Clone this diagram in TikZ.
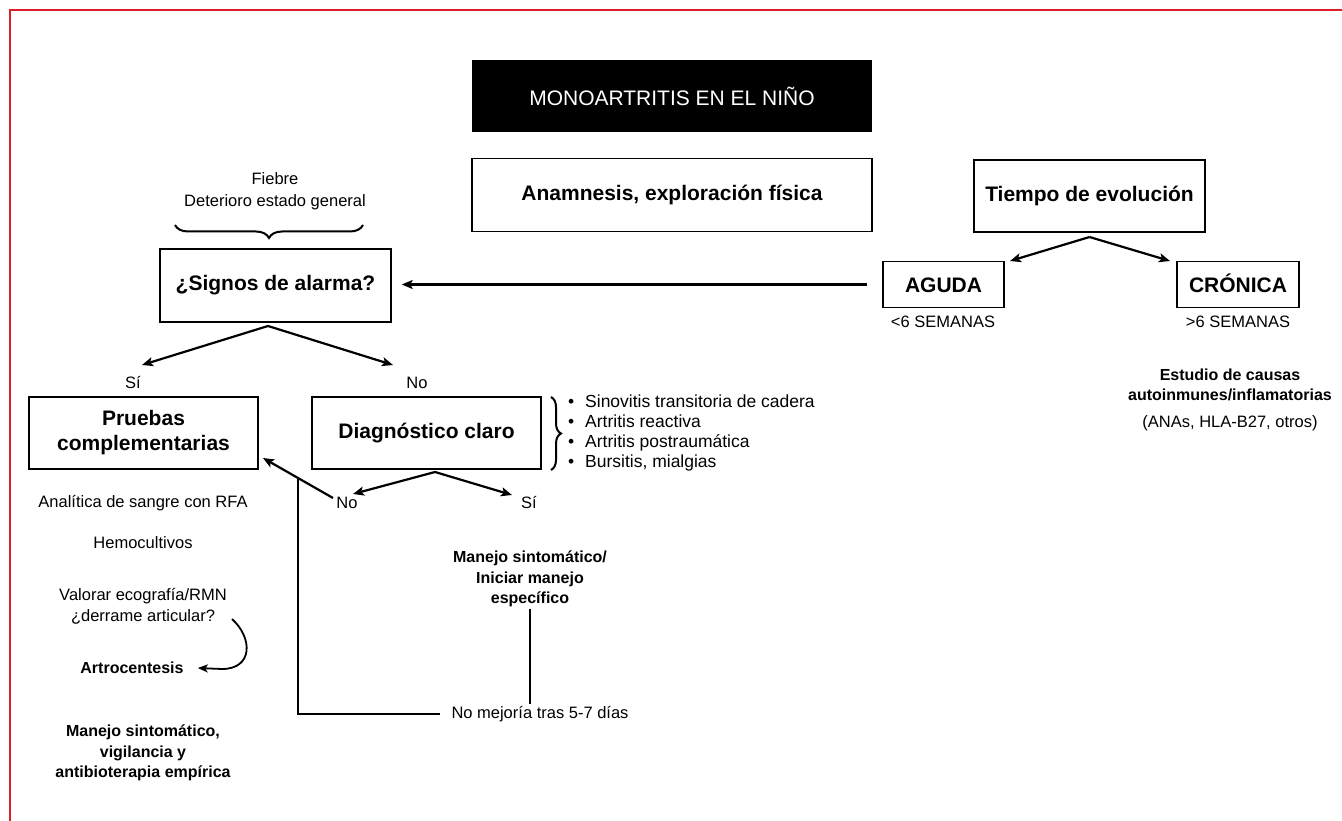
\documentclass[tikz,border=0pt]{standalone}
\usepackage{fontspec}
\setmainfont{Liberation Sans}
\usetikzlibrary{arrows.meta,decorations.pathreplacing,calc}
\newcommand{\fsmall}{\fontsize{16.5}{20}\selectfont}
\newcommand{\fsmallb}{\fontsize{16}{20.5}\selectfont\bfseries}
\newcommand{\fbig}{\fontsize{21}{25}\selectfont\bfseries}
\newcommand{\ftitle}{\fontsize{21}{24}\selectfont}
\definecolor{frame}{RGB}{222,30,40}
\tikzset{
  box/.style={draw, line width=1.5pt, inner sep=0pt, font=\fbig, align=center},
  lbl/.style={inner sep=2pt, font=\fsmall, align=center},
  lblb/.style={inner sep=2pt, font=\fsmallb, align=center},
  arr/.style={-{Stealth[length=11pt,width=9pt,inset=2.5pt]}, line width=2.2pt},
  plain/.style={line width=2.2pt},
  brc/.style={decorate, line width=2pt},
}
\begin{document}
\begin{tikzpicture}[x=1pt,y=-1pt]
\useasboundingbox (0,0) rectangle (1342,821);
\fill[white] (0,0) rectangle (1342,821);
\draw[frame, line width=2pt] (9.5,821) -- (9.5,10.5) -- (1342,10.5);

% top row
\node[fill=black, text=white, minimum width=400pt, minimum height=72pt, inner sep=0pt, font=\ftitle] (title) at (672,96) {MONOARTRITIS EN EL NIÑO};
\node[box, minimum width=400pt, minimum height=73pt] (anam) at (672,195) {Anamnesis, exploración física};
\node[box, minimum width=231pt, minimum height=72pt] (tiempo) at (1089.5,196) {Tiempo de evolución};

\node[box, minimum width=121pt, minimum height=46pt, text height=15pt, text depth=0pt] (aguda) at (943.5,284.5) {AGUDA};
\node[box, minimum width=122pt, minimum height=46pt, text height=15pt, text depth=0pt] (cronica) at (1238,284.5) {CRÓNICA};
\node[lbl] (agudal) at (943,322) {<6 SEMANAS};
\node[lbl] (cronical) at (1238,322) {>6 SEMANAS};
\node[lblb] (estudio) at (1230,385) {Estudio de causas\\autoinmunes/inflamatorias};
\node[lbl] (anas) at (1230,423) {(ANAs, HLA-B27, otros)};

\coordinate (tap) at (1089.5,237);
\draw[arr] (tap) -- (1010,261);
\draw[arr] (tap) -- (1170,261);

% alarm signs
\node[lbl, font=\fontsize{16.5}{22}\selectfont] (fiebre) at (275,191) {Fiebre\\Deterioro estado general};
\coordinate (brL) at (175,225);
\coordinate (brR) at (363,225);
\draw[brc, decoration={brace, mirror, amplitude=13pt}] (brL) -- (brR);
\node[box, minimum width=231pt, minimum height=73pt] (signos) at (275.5,285.5) {¿Signos de alarma?};
\draw[arr, shorten <=15pt, shorten >=10pt] (aguda.west) -- (signos.east |- aguda.west);

\coordinate (sap) at (268,326);
\coordinate (sL) at (142,365);
\coordinate (sR) at (393,365);
\draw[arr] (sap) -- (sL);
\draw[arr] (sap) -- (sR);
\node[lbl] (si1) at (133,383) {Sí};
\node[lbl] (no1) at (417,383) {No};

\node[box, minimum width=229pt, minimum height=72pt] (pruebas) at (143.5,433) {Pruebas\\complementarias};
\node[box, minimum width=229pt, minimum height=72pt] (diag) at (426.5,433) {Diagnóstico claro};

\coordinate (bt) at (551,397);
\coordinate (bb) at (551,470);
\draw[brc, decoration={brace, amplitude=10pt}] (bt) -- (bb);
\node[lbl, align=left, anchor=west, font=\fontsize{17.5}{20}\selectfont] (bul) at (566,433) {%
\makebox[17pt][l]{•}Sinovitis transitoria de cadera\\
\makebox[17pt][l]{•}Artritis reactiva\\
\makebox[17pt][l]{•}Artritis postraumática\\
\makebox[17pt][l]{•}Bursitis, mialgias};

% below diagnostico
\coordinate (dap) at (435,472);
\draw[arr] (dap) -- (353,494);
\draw[arr] (dap) -- (512,495);
\node[lbl] (no2) at (347,503) {No};
\node[lbl] (si2) at (529,503) {Sí};
\coordinate (dA) at (333,498);
\coordinate (dB) at (263,458);
\draw[arr] (dA) -- (dB);
\coordinate (j) at ($(dA)!0.5!(dB)$);

\node[lblb] (manejo) at (530,579) {Manejo sintomático/\\Iniciar manejo\\específico};
\node[lbl] (nomej) at (540,714) {No mejoría tras 5-7 días};
\draw[plain] (manejo.south) -- (manejo.south |- nomej.north);
\draw[plain] (j) |- ([xshift=-9pt]nomej.west);

% left column
\node[lbl] (analitica) at (143,503) {Analítica de sangre con RFA};
\node[lbl] (hemo) at (143,543) {Hemocultivos};
\node[lbl, font=\fontsize{16.5}{21}\selectfont] (valorar) at (143,606) {Valorar ecografía/RMN\\¿derrame articular?};
\node[lblb] (artro) at (132,668) {Artrocentesis};
\coordinate (c1) at (232,619);
\draw[-{Stealth[length=10pt,width=8pt,inset=2.5pt]}, line width=1.8pt] (c1) .. controls (253,638) and (253,669) .. (222,669) -- ([xshift=12pt]artro.east);
\node[lblb] (manejo2) at (143,753) {Manejo sintomático,\\vigilancia y\\antibioterapia empírica};
\end{tikzpicture}
\end{document}
